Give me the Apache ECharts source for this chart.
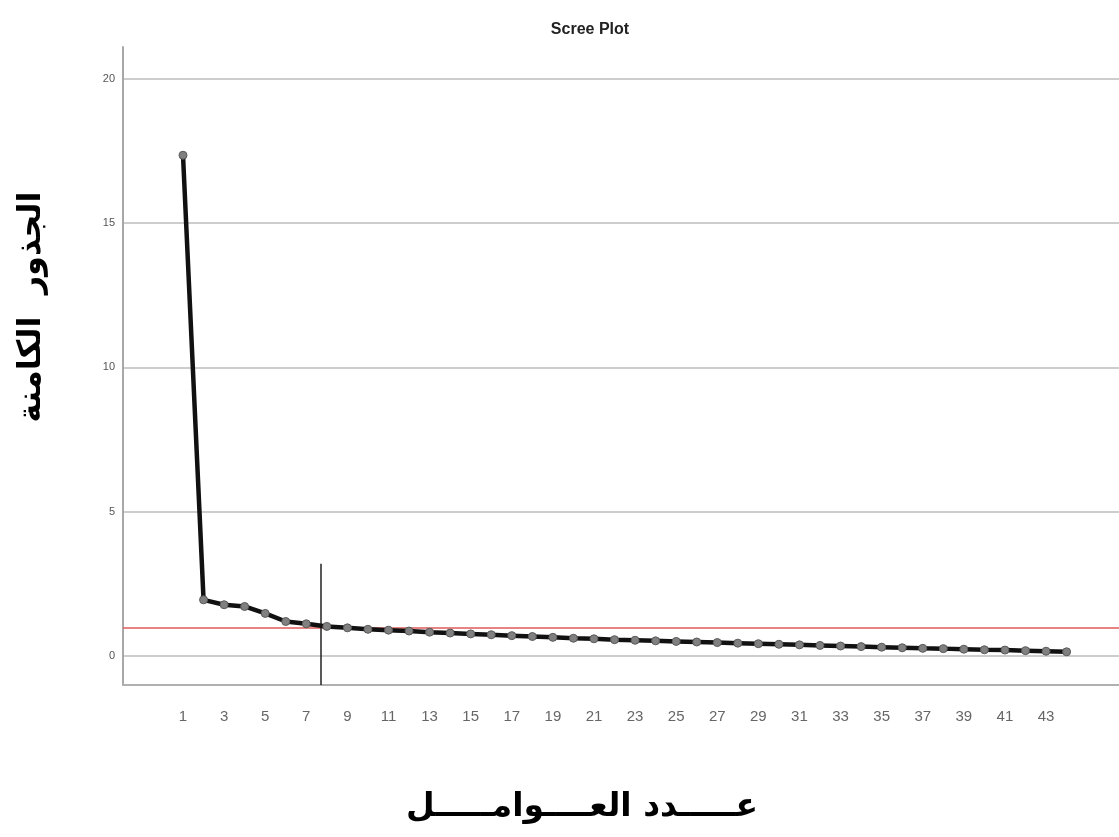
<!DOCTYPE html>
<html>
<head>
<meta charset="utf-8">
<script src="https://cdn.jsdelivr.net/npm/echarts@6/dist/echarts.min.js"></script>
<style>
html,body{margin:0;padding:0;background:#fff;}
#chart{width:1119px;height:837px;}
</style>
</head>
<body>
<div id="chart"></div>
<script>
// Component numbers (x) and eigenvalues (y)
const components = [1,2,3,4,5,6,7,8,9,10,11,12,13,14,15,16,17,18,19,20,21,22,23,24,25,26,27,28,29,30,31,32,33,34,35,36,37,38,39,40,41,42,43,44];
const eigenvalues = [17.35,1.95,1.78,1.72,1.48,1.2,1.12,1.03,0.98,0.93,0.9,0.87,0.83,0.8,0.77,0.74,0.71,0.68,0.65,0.62,0.6,0.57,0.55,0.53,0.51,0.49,0.47,0.45,0.43,0.41,0.39,0.37,0.35,0.33,0.31,0.29,0.27,0.26,0.24,0.22,0.21,0.19,0.17,0.15];
const xTicks = [1,3,5,7,9,11,13,15,17,19,21,23,25,27,29,31,33,35,37,39,41,43];
const yTicks = [0,5,10,15,20];
const kaiserLine = 1;
const cutLineX = 7.72;
const cutLineRange = [-1, 3.2];

const titleText = 'Scree Plot';
const xName = 'عـــــدد العــــوامـــــل';
const yName = 'الجذور  الكامنة';

const chart = echarts.init(document.getElementById('chart'));
chart.setOption({
  animation: false,
  backgroundColor: '#ffffff',
  title: {
    text: titleText,
    left: 585, top: 17,
    textAlign: 'center',
    textStyle: {fontFamily: 'Liberation Sans Narrow, Liberation Sans, Arial', fontSize: 16, fontWeight: 'bold', color: '#222'}
  },
  grid: {left: 123, top: 47, right: 0, bottom: 152},
  xAxis: {
    type: 'value',
    min: -1.92, max: 46.55,
    axisLine: {show: true, onZero: false, lineStyle: {color: '#b0b0b0', width: 2}},
    axisTick: {show: false, customValues: xTicks},
    splitLine: {show: false},
    axisLabel: {customValues: xTicks, margin: 24, fontSize: 15, color: '#666', fontFamily: 'Liberation Sans Narrow, Liberation Sans, Arial'}
  },
  yAxis: {
    type: 'value',
    min: -1, max: 21.1,
    axisLine: {show: true, onZero: false, lineStyle: {color: '#a8a8a8', width: 2}},
    axisTick: {show: false, customValues: yTicks},
    splitLine: {show: true, lineStyle: {color: '#cdcdcd', width: 2}},
    axisLabel: {customValues: yTicks, margin: 8, fontSize: 11, color: '#555', fontFamily: 'Liberation Sans Narrow, Liberation Sans, Arial'}
  },
  graphic: [
    {type: 'text', x: 32, y: 307, rotation: Math.PI/2,
     style: {text: yName, fontFamily: 'DejaVu Sans', fontSize: 32, fontWeight: 'bold', fill: '#000', textAlign: 'center', textVerticalAlign: 'middle'}},
    {type: 'text', x: 582, y: 807,
     style: {text: xName, fontFamily: 'DejaVu Sans', fontSize: 33, fontWeight: 'bold', fill: '#000', textAlign: 'center', textVerticalAlign: 'middle'}}
  ],
  series: [{
    type: 'line',
    data: components.map((c, i) => [c, eigenvalues[i]]),
    clip: false,
    symbol: 'circle',
    symbolSize: 8,
    lineStyle: {color: '#111', width: 4.5},
    itemStyle: {color: '#808080', borderColor: '#5a5a5a', borderWidth: 1},
    z: 5,
    markLine: {
      silent: true,
      symbol: 'none',
      label: {show: false},
      data: [
        {yAxis: kaiserLine, lineStyle: {color: '#e05a5a', width: 1.5, type: 'solid'}},
        [{coord: [cutLineX, cutLineRange[0]]}, {coord: [cutLineX, cutLineRange[1]], lineStyle: {color: '#222', width: 1.5, type: 'solid'}}]
      ]
    }
  }]
});
</script>
</body>
</html>
